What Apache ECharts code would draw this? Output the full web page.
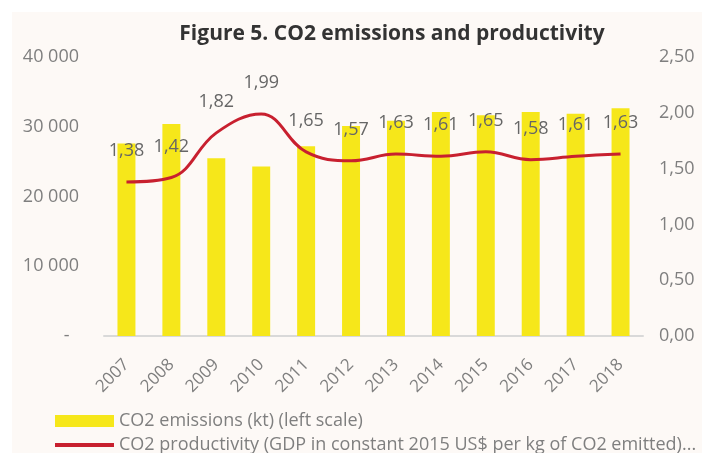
<!DOCTYPE html>
<html>
<head>
<meta charset="utf-8">
<script src="https://cdn.jsdelivr.net/npm/echarts@6/dist/echarts.min.js"></script>
<style>
  html, body { margin: 0; padding: 0; background: #ffffff; }
  #chart { position: absolute; left: 12px; top: 12px; width: 690px; height: 441px; }
</style>
</head>
<body>
<div id="chart"></div>
<script>
var years = ['2007', '2008', '2009', '2010', '2011', '2012', '2013', '2014', '2015', '2016', '2017', '2018'];
var emissions = [27600, 30400, 25500, 24300, 27200, 30100, 30850, 32100, 31650, 32100, 31850, 32650];
var productivity = [1.38, 1.42, 1.82, 1.99, 1.65, 1.57, 1.63, 1.61, 1.65, 1.58, 1.61, 1.63];
var barName = 'CO2 emissions (kt) (left scale)';
var lineName = 'CO2 productivity (GDP in constant 2015 US$ per kg of CO2 emitted)...';

var font = 'Open Sans';
var grey = '#7f7f7f';

function commaNum(v) {
    return v.toFixed(2).replace('.', ',');
}
function spaceNum(v) {
    if (v === 0) return '-  ';
    return String(v).replace(/\B(?=(\d{3})+(?!\d))/g, ' ');
}

var myChart = echarts.init(document.getElementById('chart'));
var option = {
    backgroundColor: '#fdf9f6',
    animation: false,
    title: {
        text: 'Figure 5. CO2 emissions and productivity',
        left: 375,
        textAlign: 'center',
        top: 7,
        textStyle: { fontFamily: font, fontSize: 21, fontWeight: 'bold', color: '#333333' }
    },
    legend: {
        orient: 'vertical',
        left: 36,
        top: 394,
        height: 60,
        itemWidth: 59,
        itemHeight: 12,
        itemGap: 4,
        data: [
            { name: barName, icon: 'rect' },
            { name: lineName, itemStyle: { opacity: 0 }, lineStyle: { width: 4 } }
        ],
        textStyle: { fontFamily: font, fontSize: 18, color: grey, lineHeight: 20 }
    },
    grid: { left: 92, right: 59, top: 45, bottom: 117 },
    xAxis: {
        type: 'category',
        data: years,
        axisTick: { show: false },
        axisLine: { lineStyle: { color: '#d9d9d9', width: 2 } },
        axisLabel: { rotate: 45, margin: 26, fontFamily: font, fontSize: 17, color: grey }
    },
    yAxis: [
        {
            type: 'value',
            min: 0, max: 40000, interval: 10000,
            splitLine: { show: false },
            axisLabel: { margin: 25, fontFamily: font, fontSize: 18, color: grey, formatter: spaceNum }
        },
        {
            type: 'value',
            min: 0, max: 2.5, interval: 0.5,
            splitLine: { show: false },
            axisLabel: { margin: 16, fontFamily: font, fontSize: 18, color: grey, formatter: commaNum }
        }
    ],
    series: [
        {
            name: barName,
            type: 'bar',
            data: emissions,
            barWidth: '40%',
            itemStyle: { color: '#f6e71a' }
        },
        {
            name: lineName,
            type: 'line',
            yAxisIndex: 1,
            data: productivity,
            smooth: 0.4,
            symbol: 'circle',
            symbolSize: 0,
            lineStyle: { color: '#c8202f', width: 3 },
            itemStyle: { color: '#c8202f' },
            label: {
                show: true,
                position: 'top',
                distance: 22,
                fontFamily: font,
                fontSize: 18,
                color: '#666666',
                formatter: function (p) { return commaNum(p.value); }
            }
        }
    ]
};

if (option && typeof option === 'object') {
    myChart.setOption(option);
}
</script>
</body>
</html>
